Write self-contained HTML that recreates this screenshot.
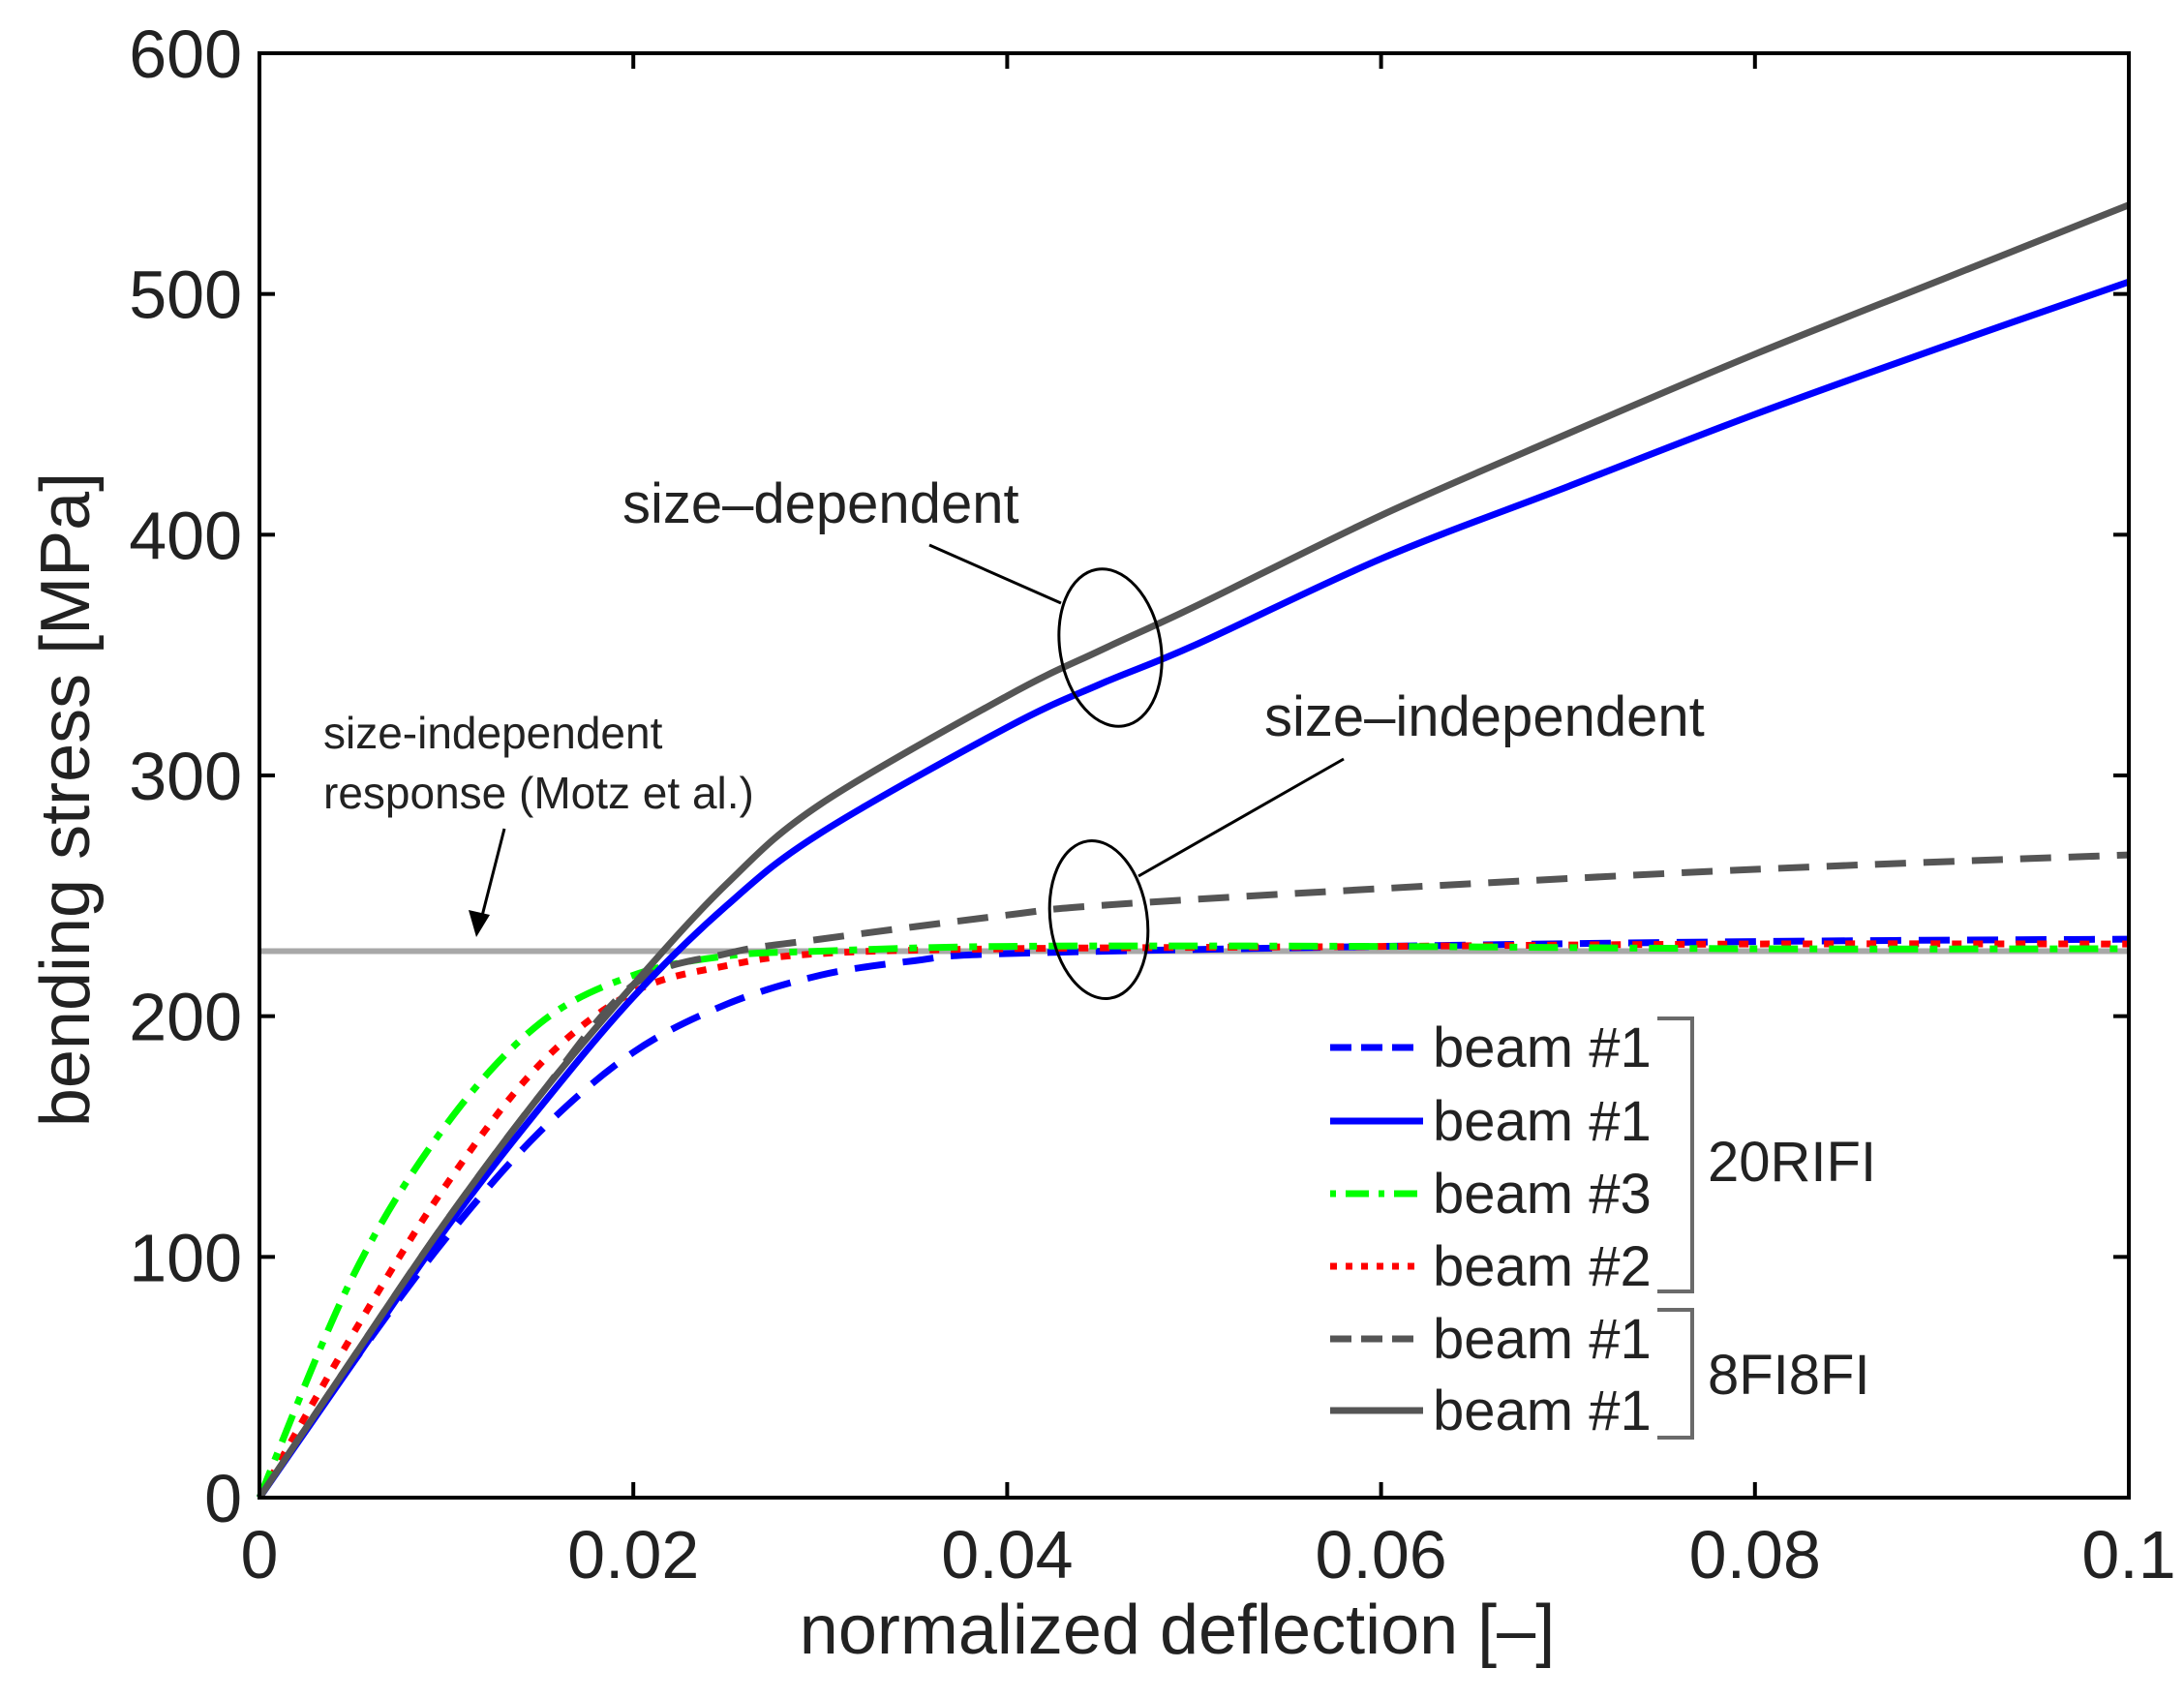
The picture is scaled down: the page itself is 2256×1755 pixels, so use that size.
<!DOCTYPE html>
<html><head><meta charset="utf-8"><style>
html,body{margin:0;padding:0;background:#fff;}
svg{display:block;font-family:"Liberation Sans",sans-serif;}
</style></head><body>
<svg id="chart" width="2256" height="1755" viewBox="0 0 2256 1755" xmlns="http://www.w3.org/2000/svg">
<g id="plot"></g>
</svg>
<script>
const xTicks=[0,0.02,0.04,0.06,0.08,0.1];
const xTickLabels=["0","0.02","0.04","0.06","0.08","0.1"];
const yTicks=[0,100,200,300,400,500,600];
const yTickLabels=["0","100","200","300","400","500","600"];
const grayDepX=[0,0.005,0.01,0.015,0.02,0.025,0.03,0.04,0.045,0.05,0.06,0.07,0.08,0.09,0.1];
const grayDepY=[0,58,115,167,213,255,288,333,352,370,408,442,475,506,537];
const blueDepX=[0,0.005,0.01,0.015,0.02,0.025,0.03,0.04,0.045,0.05,0.06,0.07,0.08,0.09,0.1];
const blueDepY=[0,56,112,162,208,246,276,320,338,354,390,420,450,478,505];
const grayIndX=[0,0.005,0.01,0.015,0.02,0.025,0.03,0.04,0.045,0.06,0.08,0.1];
const grayIndY=[0,58,115,167,213,226,232,242,246,253,261,267];
const blueIndX=[0,0.005,0.01,0.015,0.02,0.025,0.03,0.035,0.04,0.06,0.08,0.1];
const blueIndY=[0,56,108,152,185,205,217,223,226,229,231,232];
const greenX=[0,0.005,0.01,0.015,0.02,0.025,0.03,0.04,0.06,0.08,0.1];
const greenY=[0,92,155,197,217,225,227,229,229,228,228];
const redX=[0,0.005,0.01,0.015,0.02,0.025,0.03,0.04,0.06,0.08,0.1];
const redY=[0,68,130,180,210,221,226,228,229,230,230];
const refLevel=[227];

const L=268,R=2199,T=55,B=1547;
const sx=v=>L+(v-0)/(0.1)*(R-L);
const sy=v=>B-(v/600)*(B-T);
const NS="http://www.w3.org/2000/svg";
const svg=document.getElementById('chart');
function mk(tag,attrs,parent){const e=document.createElementNS(NS,tag);for(const k in attrs)e.setAttribute(k,attrs[k]);(parent||svg).appendChild(e);return e;}

let ref=mk('line',{x1:sx(0),x2:sx(0.1),y1:sy(refLevel[0]),y2:sy(refLevel[0]),stroke:'#a8a8a8','stroke-width':6});



function smoothPath(xs,ys){
  const P=xs.map((x,i)=>[sx(x),sy(ys[i])]);
  let d='M'+P[0][0].toFixed(1)+' '+P[0][1].toFixed(1);
  for(let i=0;i<P.length-1;i++){
    const p0=P[Math.max(0,i-1)],p1=P[i],p2=P[i+1],p3=P[Math.min(P.length-1,i+2)];
    const c1=[p1[0]+(p2[0]-p0[0])/6,p1[1]+(p2[1]-p0[1])/6];
    const c2=[p2[0]-(p3[0]-p1[0])/6,p2[1]-(p3[1]-p1[1])/6];
    d+=' C'+c1[0].toFixed(1)+' '+c1[1].toFixed(1)+' '+c2[0].toFixed(1)+' '+c2[1].toFixed(1)+' '+p2[0].toFixed(1)+' '+p2[1].toFixed(1);
  }
  return d;
}
function series(xs,ys,color,dash,name){
  const p=mk('path',{d:smoothPath(xs,ys),fill:'none',stroke:color,'stroke-width':7,'stroke-dasharray':dash,'stroke-linejoin':'round'});
  
  
}
series(blueIndX,blueIndY,'#0000ff','32 18','series-20rifi-beam1-independent');
series(redX,redY,'#ff0000','10 12','series-20rifi-beam2');
series(greenX,greenY,'#00ff00','30 12 8 12','series-20rifi-beam3');
series(grayIndX,grayIndY,'#555555','32 18','series-8fi8fi-beam1-independent');
series(blueDepX,blueDepY,'#0000ff','none','series-20rifi-beam1-dependent');
series(grayDepX,grayDepY,'#555555','none','series-8fi8fi-beam1-dependent');

let box=mk('rect',{x:L,y:T,width:R-L,height:B-T,fill:'none',stroke:'#000','stroke-width':4});


xTicks.forEach((v,i)=>{
  mk('line',{x1:sx(v),x2:sx(v),y1:B,y2:B-16,stroke:'#000','stroke-width':4});
  mk('line',{x1:sx(v),x2:sx(v),y1:T,y2:T+16,stroke:'#000','stroke-width':4});
  const t=mk('text',{x:sx(v),y:1630,'font-size':70,'text-anchor':'middle',fill:'#222'});
  t.textContent=xTickLabels[i];
  
  
});
yTicks.forEach((v,i)=>{
  mk('line',{x1:L,x2:L+16,y1:sy(v),y2:sy(v),stroke:'#000','stroke-width':4});
  mk('line',{x1:R,x2:R-16,y1:sy(v),y2:sy(v),stroke:'#000','stroke-width':4});
  const t=mk('text',{x:250,y:sy(v)+25,'font-size':70,'text-anchor':'end',fill:'#222'});
  t.textContent=yTickLabels[i];
  
  
});
</script>
<svg style="position:absolute;left:0;top:0" width="2256" height="1755" xmlns="http://www.w3.org/2000/svg" font-family="Liberation Sans, sans-serif" fill="#222">
<text x="1216" y="1708" font-size="72" text-anchor="middle">normalized deflection [–]</text>
<text transform="translate(92,826) rotate(-90)" font-size="72" text-anchor="middle">bending stress [MPa]</text>
<text x="643" y="540" font-size="58">size–dependent</text>
<line x1="960" y1="563" x2="1096" y2="623" stroke="#000" stroke-width="3"/>
<ellipse cx="1147" cy="669" rx="52" ry="82" transform="rotate(-10 1147 669)" fill="none" stroke="#000" stroke-width="3"/>
<text x="1306" y="760" font-size="58">size–independent</text>
<line x1="1388" y1="784" x2="1176" y2="905" stroke="#000" stroke-width="3"/>
<ellipse cx="1135" cy="950" rx="50" ry="82" transform="rotate(-8 1135 950)" fill="none" stroke="#000" stroke-width="3"/>
<text x="334" y="773" font-size="46">size-independent</text>
<text x="334" y="835" font-size="46">response (Motz et al.)</text>
<line x1="521" y1="856" x2="497" y2="950" stroke="#000" stroke-width="3"/>
<polygon points="492,968 484,940 506,945" fill="#000"/>
<g font-size="58">
<line x1="1374" x2="1470" y1="1082" y2="1082" stroke="#0000ff" stroke-width="7" stroke-dasharray="22 10"/>
<text x="1480" y="1102">beam #1</text>
<line x1="1374" x2="1470" y1="1158" y2="1158" stroke="#0000ff" stroke-width="7"/>
<text x="1480" y="1178">beam #1</text>
<line x1="1374" x2="1470" y1="1233" y2="1233" stroke="#00ff00" stroke-width="7" stroke-dasharray="6 10 24 10"/>
<text x="1480" y="1253">beam #3</text>
<line x1="1374" x2="1470" y1="1308" y2="1308" stroke="#ff0000" stroke-width="7" stroke-dasharray="7 9"/>
<text x="1480" y="1328">beam #2</text>
<line x1="1374" x2="1470" y1="1383" y2="1383" stroke="#555" stroke-width="7" stroke-dasharray="22 10"/>
<text x="1480" y="1403">beam #1</text>
<line x1="1374" x2="1470" y1="1457" y2="1457" stroke="#555" stroke-width="7"/>
<text x="1480" y="1477">beam #1</text>
<polyline points="1712,1052 1748,1052 1748,1334 1712,1334" fill="none" stroke="#6a6a6a" stroke-width="4"/>
<polyline points="1712,1353 1748,1353 1748,1485 1712,1485" fill="none" stroke="#6a6a6a" stroke-width="4"/>
<text x="1764" y="1220">20RIFI</text>
<text x="1764" y="1440">8FI8FI</text>
</g>
</svg>
</body></html>
